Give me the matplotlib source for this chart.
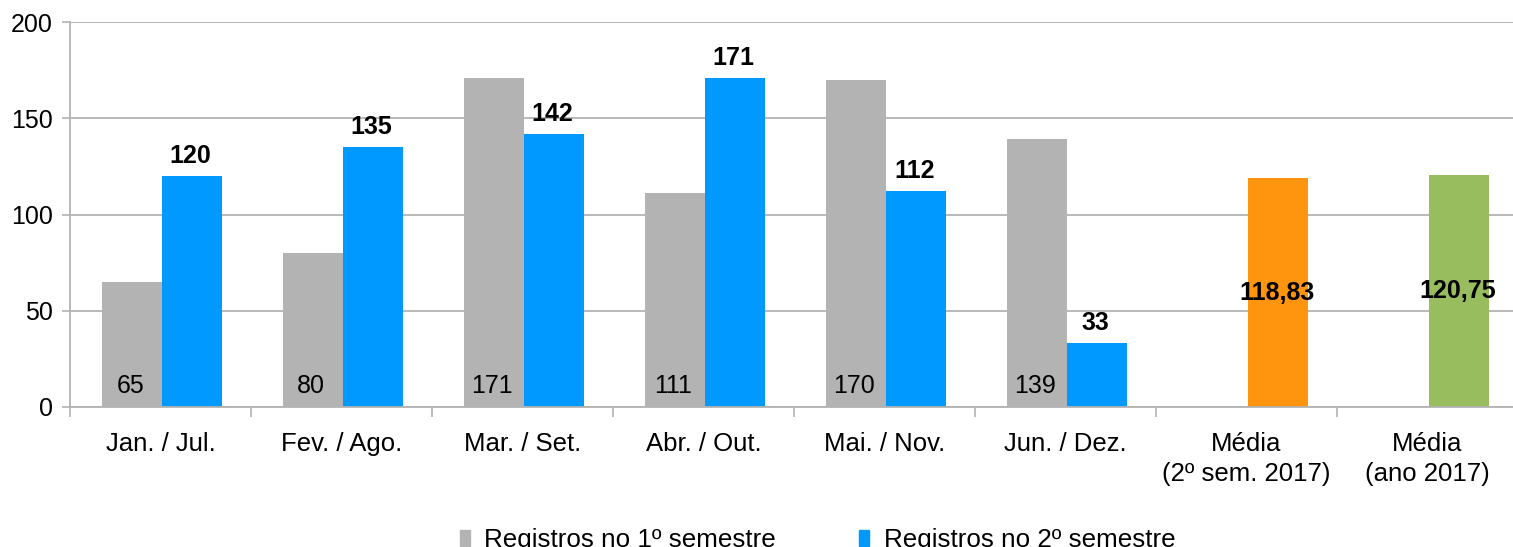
import numpy as np
import matplotlib.pyplot as plt
from matplotlib.patches import Patch

plt.rcParams['font.family'] = ['Liberation Sans', 'DejaVu Sans']

categorias = ['Jan. / Jul.', 'Fev. / Ago.', 'Mar. / Set.', 'Abr. / Out.',
              'Mai. / Nov.', 'Jun. / Dez.', 'Média\n(2º sem. 2017)', 'Média\n(ano 2017)']
sem1 = [65, 80, 171, 111, 170, 139]
sem2 = [120, 135, 142, 171, 112, 33]
medias = [118.83, 120.75]
medias_txt = ['118,83', '120,75']

cinza = '#b3b3b3'
azul = '#0099ff'
cores_media = ['#ff950e', '#97bd5e']
grade = '#b3b3b3'

fig = plt.figure(figsize=(15.13, 5.47), dpi=100)
ax = fig.add_axes([70/1513, 140/547, 1448/1513, 385/547])

w = 0.333
x1 = np.arange(len(sem1))
ax.bar(x1 - w/2 + 0.008, sem1, w, color=cinza, zorder=2)
ax.bar(x1 + w/2 + 0.008, sem2, w, color=azul, zorder=2)
xm = np.arange(len(sem1), len(sem1) + len(medias))
ax.bar(xm + w/2 + 0.008, medias, w, color=cores_media, zorder=2)

for xi, v in zip(x1, sem1):
    ax.annotate(str(v), (xi - w/2, 0), xytext=(0, 10), textcoords='offset points',
                ha='center', va='baseline', fontsize=18, zorder=3)
for xi, v in zip(x1, sem2):
    ax.annotate(str(v), (xi + w/2, v), xytext=(0, 9.4), textcoords='offset points',
                ha='center', va='baseline', fontsize=18, fontweight='bold', zorder=3)
for xi, v, t in zip(xm, medias, medias_txt):
    ax.text(xi + w/2, v/2, t, ha='center', va='center', fontsize=18,
            fontweight='bold', zorder=3)

ax.set_xlim(-0.5, len(categorias) - 0.5)
ax.set_ylim(0, 200)
ax.set_yticks([0, 50, 100, 150, 200])
ax.yaxis.grid(True, color=grade, lw=1.3, zorder=0)
ax.set_axisbelow(True)
ax.tick_params(axis='y', length=6, width=1.2, color=grade, pad=6.5, labelsize=18)

ax.set_xticks(np.arange(-0.5, len(categorias)), labels=[])
ax.set_xticks(np.arange(len(categorias)), labels=categorias, minor=True)
ax.tick_params(axis='x', which='major', length=7.5, width=1.2, color=grade)
ax.tick_params(axis='x', which='minor', length=0, pad=18, labelsize=18.5)
for lbl in ax.get_xticklabels(minor=True):
    lbl.set_linespacing(1.3)

for s in ['top', 'right']:
    ax.spines[s].set_visible(False)
for s in ['left', 'bottom']:
    ax.spines[s].set_color(grade)
    ax.spines[s].set_linewidth(1.3)

handles = [Patch(color=cinza), Patch(color=azul)]
fig.legend(handles, ['Registros no 1º semestre', 'Registros no 2º semestre'],
           loc='center', bbox_to_anchor=(0.5403, 0.012), ncol=2, frameon=False,
           fontsize=18.7, handlelength=0.4, handleheight=0.55, handletextpad=0.55,
           columnspacing=3.2)

fig.savefig('out.png', dpi=100)
